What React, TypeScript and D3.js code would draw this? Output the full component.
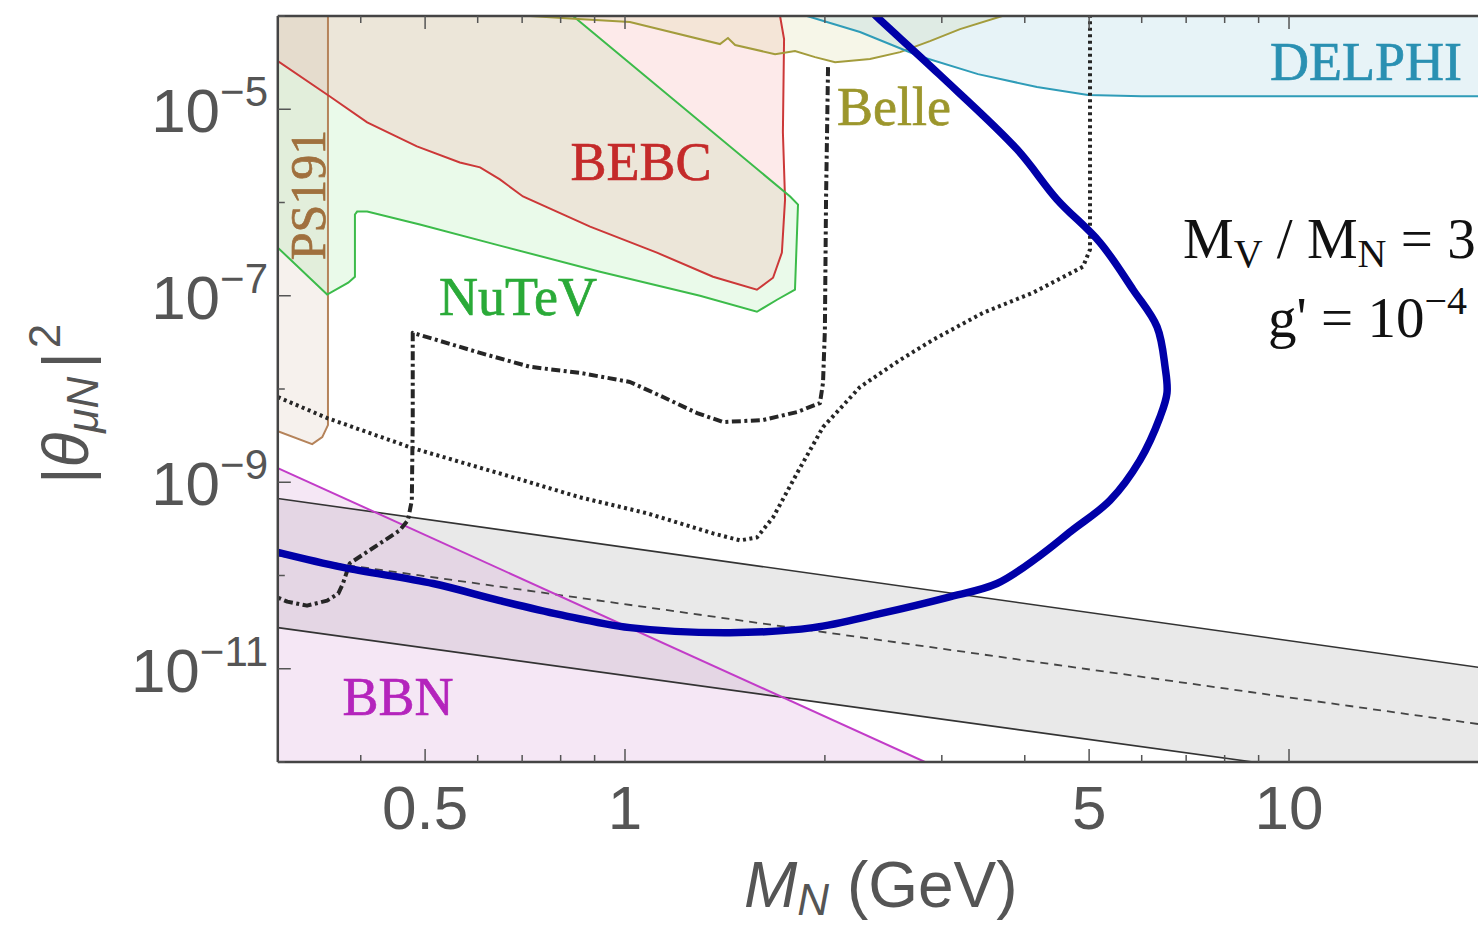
import React from "react";
import * as d3 from "d3";

type Pt = [number, number];

// Axis domains: heavy neutral lepton mass M_N (GeV) and mixing |θ_μN|^2
const xDomain: [number, number] = [0.3, 20];
const yDomain: [number, number] = [1e-12, 1e-4];

const xTicksLabelled = [0.5, 1, 5, 10];
const xTickLabels = ["0.5", "1", "5", "10"];
const xTicksMinor = [0.4, 0.6, 0.7, 0.8, 0.9, 2, 3, 4, 6, 7, 8, 9];
const yTickExponents = [-12, -11, -10, -9, -8, -7, -6, -5, -4];
const yLabelledExponents = [-11, -9, -7, -5];

// Existing limits (M_N, |θ|^2)
const ps191: Pt[] = [
  [0.3, 1e-4], [0.357, 1e-4], [0.357, 4.1e-9], [0.35, 3.05e-9], [0.338, 2.56e-9], [0.3, 3.53e-9],
];

const bebc: Pt[] = [
  [0.3, 1e-4], [0.3, 3.28e-5], [0.359, 1.38e-5], [0.409, 7.24e-6], [0.486, 4.0e-6],
  [0.564, 2.69e-6], [0.605, 2.38e-6], [0.648, 1.77e-6], [0.702, 1.16e-6], [0.886, 5.52e-7],
  [1.117, 2.9e-7], [1.357, 1.6e-7], [1.58, 1.16e-7], [1.671, 1.56e-7], [1.723, 2.9e-7],
  [1.742, 1.08e-6], [1.729, 5.66e-6], [1.736, 5.66e-5], [1.712, 1e-4],
];

const nutev: Pt[] = [
  [0.3, 1e-4], [0.835, 1e-4], [1.773, 1.16e-6], [1.822, 9.5e-7], [1.803, 1.16e-7],
  [1.694, 9.06e-8], [1.58, 6.73e-8], [1.297, 1.0e-7], [0.917, 1.81e-7], [0.648, 3.45e-7],
  [0.491, 5.8e-7], [0.409, 8.0e-7], [0.395, 8.0e-7], [0.392, 7.43e-7], [0.392, 1.6e-7],
  [0.383, 1.38e-7], [0.356, 1.03e-7], [0.3, 3.28e-7],
];

const belle: Pt[] = [
  [0.72, 1e-4], [0.85, 9.3e-5], [1.017, 8.6e-5], [1.39, 5.0e-5], [1.429, 5.8e-5], [1.465, 4.88e-5],
  [1.683, 3.9e-5], [1.803, 4.2e-5], [1.933, 3.62e-5], [2.072, 3.2e-5], [2.339, 3.45e-5],
  [2.596, 4.1e-5], [2.879, 5.38e-5], [3.196, 7.24e-5], [3.7, 1e-4],
];

const delphi: Pt[] = [
  [1.88, 1e-4], [2.259, 6.73e-5], [2.772, 3.72e-5], [3.401, 2.38e-5], [4.173, 1.73e-5],
  [4.981, 1.42e-5], [6.0, 1.38e-5], [20, 1.38e-5], [20, 1e-4],
];

// Band with its central (dashed) value
const bandUpper: Pt[] = [[0.3, 6.7e-10], [20, 1.0e-11]];
const bandLower: Pt[] = [[0.3, 2.76e-11], [20, 4.48e-13]];
const bandCentral: Pt[] = [[0.3, 1.64e-10], [20, 2.46e-12]];

// BBN lower bound
const bbn: Pt[] = [[0.3, 1.42e-9], [2.83, 1.0e-12]];

// Projected sensitivities
const dotted: Pt[] = [
  [0.3, 8.2e-9], [0.356, 4.88e-9], [0.479, 2.32e-9], [0.678, 1.13e-9], [0.855, 6.9e-10],
  [1.079, 4.65e-10], [1.357, 2.83e-10], [1.49, 2.38e-10], [1.58, 2.56e-10], [1.671, 4.2e-10],
  [1.816, 1.25e-9], [1.987, 3.9e-9], [2.259, 1.05e-8], [2.596, 2.05e-8], [2.91, 3.37e-8],
  [3.461, 6.56e-8], [4.117, 1.08e-7], [4.896, 2.05e-7], [5.015, 3.13e-7], [5.015, 1e-4],
];

const dashDot: Pt[] = [
  [2.022, 2.83e-5], [2.008, 1.08e-6], [2.0, 4.3e-8], [1.987, 1.16e-8], [1.966, 7.06e-9],
  [1.816, 5.66e-9], [1.614, 4.65e-9], [1.405, 4.42e-9], [1.284, 5.52e-9], [1.141, 8.2e-9],
  [1.017, 1.19e-8], [0.855, 1.49e-8], [0.719, 1.73e-8], [0.605, 2.44e-8], [0.479, 4.0e-8],
  [0.479, 4.65e-9], [0.4775, 6.4e-10], [0.471, 3.9e-10], [0.458, 3.05e-10], [0.385, 1.35e-10],
  [0.376, 8.2e-11], [0.37, 6.4e-11], [0.356, 5.38e-11], [0.332, 4.75e-11], [0.31, 5.25e-11],
  [0.3, 5.8e-11],
];

// Thick curve for M_V / M_N = 3, g' = 1e-4
const signal: Pt[] = [
  [0.3, 1.77e-10], [0.376, 1.22e-10], [0.514, 8.2e-11], [0.648, 5.38e-11], [0.798, 3.81e-11],
  [1.017, 2.76e-11], [1.439, 2.44e-11], [1.919, 2.76e-11], [2.421, 3.9e-11], [3.054, 5.8e-11],
  [3.633, 8.2e-11], [4.2, 1.6e-10], [4.7, 3.0e-10], [5.376, 6.4e-10], [5.965, 1.73e-9],
  [6.393, 5.0e-9], [6.55, 9.06e-9], [6.506, 1.73e-8], [6.327, 4.65e-8], [5.823, 1.16e-7],
  [5.193, 3.72e-7], [4.473, 1.08e-6], [3.894, 3.72e-6], [2.971, 2.38e-5], [2.388, 1e-4],
  [2.3, 1.3e-4],
];

const SANS = "'Liberation Sans', Arial, Helvetica, sans-serif";
const SERIF = "'Liberation Serif', 'Times New Roman', Times, serif";
const AXIS = "#555";

function RegionLabel(props: { x: number; y: number; color: string; text: string; size?: number; transform?: string }) {
  const { x, y, color, text, size = 54, transform } = props;
  return (
    <text
      x={transform ? 0 : x}
      y={transform ? 0 : y}
      transform={transform}
      fontFamily={SERIF}
      fontSize={size}
      fill={color}
      stroke={color}
      strokeWidth={0.7}
      textAnchor="middle"
    >
      {text}
    </text>
  );
}

export default function App() {
  const x = d3.scaleLog().domain(xDomain).range([277.8, 1488.9]);
  const y = d3.scaleLog().domain(yDomain).range([762, 16]);
  const line = d3.line<Pt>().x((d) => x(d[0])).y((d) => y(d[1]));
  const smooth = d3
    .line<Pt>()
    .x((d) => x(d[0]))
    .y((d) => y(d[1]))
    .curve(d3.curveCatmullRom.alpha(0.5));
  const poly = (pts: Pt[]) => (line(pts) || "") + "Z";

  const left = x(xDomain[0]);
  const top = y(yDomain[1]);
  const bottom = y(yDomain[0]);
  const right = 1478;

  const band = poly([...bandUpper, ...bandLower.slice().reverse()]);
  const bbnFill = poly([...bbn, [xDomain[0], yDomain[0]]]);

  return (
    <svg
      width={1478}
      height={929}
      style={{ position: "absolute", left: 0, top: 0, background: "#fff" }}
    >
      <defs>
        <clipPath id="plot">
          <rect x={left} y={top} width={right - left + 20} height={bottom - top} />
        </clipPath>
      </defs>

      <g clipPath="url(#plot)">
        {/* band and BBN */}
        <path d={band} fill="#e9e9e9" />
        <path d={bbnFill} fill="rgb(214,160,214)" fillOpacity={0.25} />

        {/* exclusion regions */}
        <path d={poly(ps191)} fill="rgb(200,170,140)" fillOpacity={0.16} />
        <path d={poly(nutev)} fill="rgb(140,230,140)" fillOpacity={0.18} />
        <path d={poly(bebc)} fill="rgb(245,150,150)" fillOpacity={0.2} />
        <path d={poly(belle)} fill="rgb(210,210,140)" fillOpacity={0.2} />
        <path d={poly(delphi)} fill="rgb(120,190,210)" fillOpacity={0.18} />

        <path d={poly(ps191)} fill="none" stroke="#b5835a" strokeWidth={2} />
        <path d={poly(bebc)} fill="none" stroke="#cc3838" strokeWidth={2} />
        <path d={poly(nutev)} fill="none" stroke="#3cbb4a" strokeWidth={2} />
        <path d={line(belle) || ""} fill="none" stroke="#a39c3c" strokeWidth={2} />
        <path d={line(delphi.slice(0, 8)) || ""} fill="none" stroke="#2f9cb8" strokeWidth={2} />

        {/* band edges */}
        <path d={line(bandUpper) || ""} fill="none" stroke="#333" strokeWidth={1.6} />
        <path d={line(bandLower) || ""} fill="none" stroke="#333" strokeWidth={1.6} />
        <path
          d={line(bandCentral) || ""}
          fill="none"
          stroke="#444"
          strokeWidth={1.8}
          strokeDasharray="8 6"
        />
        <path d={line(bbn) || ""} fill="none" stroke="#c23cc8" strokeWidth={2} />

        {/* sensitivities */}
        <path
          d={line(dotted) || ""}
          fill="none"
          stroke="#262626"
          strokeWidth={4}
          strokeDasharray="3 3.5"
        />
        <path
          d={line(dashDot) || ""}
          fill="none"
          stroke="#262626"
          strokeWidth={4}
          strokeDasharray="9 3.5 3 3.5"
          strokeLinejoin="round"
        />
        <path
          d={smooth(signal) || ""}
          fill="none"
          stroke="#0000a8"
          strokeWidth={7.5}
          strokeLinejoin="round"
        />

        {/* region labels */}
        <RegionLabel x={641} y={180} color="#c42a2a" text="BEBC" />
        <RegionLabel x={518} y={315} color="#2aaa38" text="NuTeV" />
        <RegionLabel x={894} y={125} color="#9c962c" text="Belle" />
        <RegionLabel x={1366} y={80} color="#2a90b2" text="DELPHI" />
        <RegionLabel x={398} y={715} color="#b424bc" text="BBN" />
        <RegionLabel
          x={0}
          y={0}
          transform="translate(325, 195) rotate(-90)"
          color="#a0703e"
          text="PS191"
          size={50}
        />
      </g>

      {/* model parameters */}
      <text x={1183} y={258} fontFamily={SERIF} fontSize={57} fill="#111">
        M<tspan fontSize={40} dy={9}>V</tspan>
        <tspan dy={-9}> / M</tspan>
        <tspan fontSize={40} dy={9}>N</tspan>
        <tspan dy={-9}> = 3</tspan>
      </text>
      <text x={1268} y={337} fontFamily={SERIF} fontSize={57} fill="#111">
        g' = 10<tspan fontSize={40} dy={-23}>−4</tspan>
      </text>

      {/* frame */}
      <g stroke="#444" strokeWidth={2.5} fill="none">
        <line x1={left} x2={right} y1={top} y2={top} />
        <line x1={left} x2={right} y1={bottom} y2={bottom} />
        <line x1={left} x2={left} y1={top} y2={bottom} />
      </g>

      {/* ticks */}
      <g stroke="#555" strokeWidth={1.5}>
        {xTicksMinor.map((t) => (
          <g key={"xm" + t}>
            <line x1={x(t)} x2={x(t)} y1={bottom} y2={bottom - 7} />
            <line x1={x(t)} x2={x(t)} y1={top} y2={top + 7} />
          </g>
        ))}
        {xTicksLabelled.map((t) => (
          <g key={"xM" + t}>
            <line x1={x(t)} x2={x(t)} y1={bottom} y2={bottom - 13} />
            <line x1={x(t)} x2={x(t)} y1={top} y2={top + 13} />
          </g>
        ))}
        {yTickExponents.map((e) => (
          <line
            key={"y" + e}
            x1={left}
            x2={left + (yLabelledExponents.includes(e) ? 13 : 7)}
            y1={y(Math.pow(10, e))}
            y2={y(Math.pow(10, e))}
          />
        ))}
      </g>

      {/* tick labels */}
      {xTicksLabelled.map((t, i) => (
        <text
          key={"xl" + t}
          x={x(t)}
          y={829}
          fontFamily={SANS}
          fontSize={62}
          fill={AXIS}
          textAnchor="middle"
        >
          {xTickLabels[i]}
        </text>
      ))}
      {yLabelledExponents.map((e) => (
        <text
          key={"yl" + e}
          x={268}
          y={y(Math.pow(10, e)) + 23}
          fontFamily={SANS}
          fontSize={62}
          fill={AXIS}
          textAnchor="end"
        >
          10<tspan fontSize={42} dy={-26}>{"−" + Math.abs(e)}</tspan>
        </text>
      ))}

      {/* axis titles */}
      <text x={744} y={907} fontFamily={SANS} fontSize={64} fill={AXIS}>
        <tspan fontStyle="italic">M</tspan>
        <tspan fontStyle="italic" fontSize={44} dy={8}>N</tspan>
        <tspan dy={-8}> (GeV)</tspan>
      </text>
      <text
        transform="translate(88, 484) rotate(-90)"
        fontFamily={SANS}
        fontSize={64}
        fill={AXIS}
      >
        |<tspan fontStyle="italic">θ</tspan>
        <tspan fontSize={44} dy={10} fontStyle="italic">μN</tspan>
        <tspan dy={-10} dx={8}>|</tspan>
        <tspan fontSize={44} dy={-28} dx={4}>2</tspan>
      </text>
    </svg>
  );
}
